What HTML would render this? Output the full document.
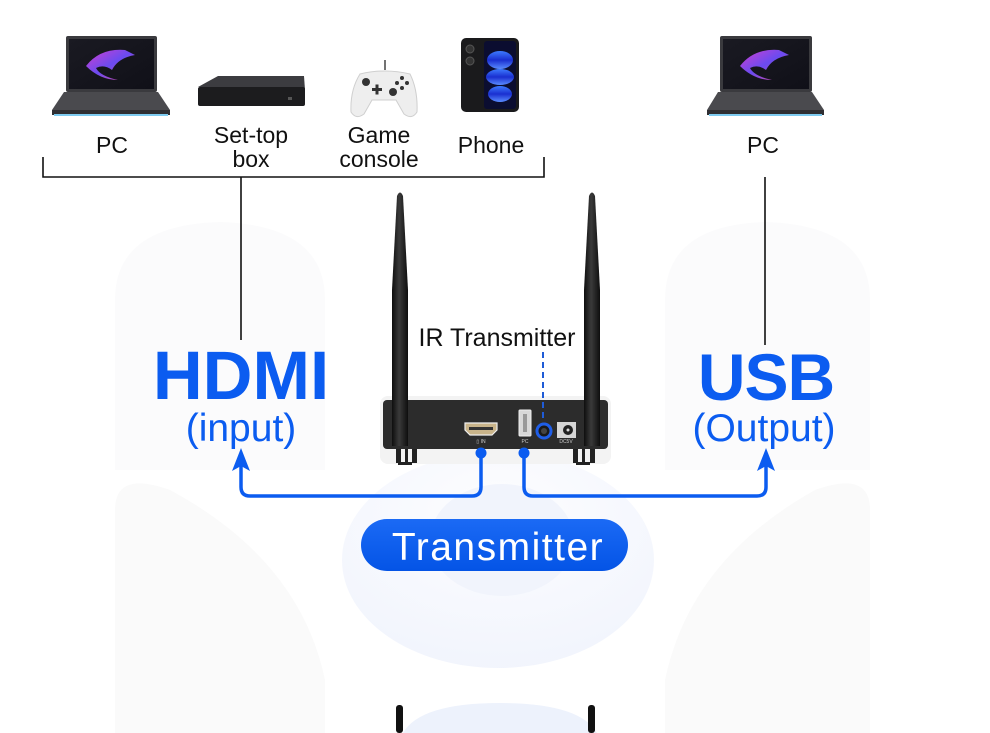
<!DOCTYPE html>
<html><head><meta charset="utf-8"><style>
html,body{margin:0;padding:0;background:#fff;}
body{width:990px;height:733px;overflow:hidden;position:relative;font-family:"Liberation Sans","DejaVu Sans",sans-serif;}
svg{position:absolute;left:0;top:0;overflow:hidden;}
</style></head><body>
<svg width="990" height="733" viewBox="0 0 990 733" xmlns="http://www.w3.org/2000/svg">
<defs>
<linearGradient id="pill" x1="0" y1="0" x2="0" y2="1"><stop offset="0" stop-color="#1b6af5"/><stop offset="1" stop-color="#0454e6"/></linearGradient>
<radialGradient id="bowl" cx="0.5" cy="0.3" r="0.7"><stop offset="0" stop-color="#fdfdff"/><stop offset="1" stop-color="#eef2fc"/></radialGradient>
<linearGradient id="scr" x1="0" y1="0" x2="1" y2="1"><stop offset="0" stop-color="#1a1a22"/><stop offset="1" stop-color="#101018"/></linearGradient>
<linearGradient id="rog" x1="0" y1="0" x2="1" y2="1"><stop offset="0" stop-color="#d23fd0"/><stop offset="0.5" stop-color="#6a4bf0"/><stop offset="1" stop-color="#e04aa0"/></linearGradient>
<linearGradient id="ant" x1="0" y1="0" x2="1" y2="0"><stop offset="0" stop-color="#0e0e0e"/><stop offset="0.45" stop-color="#3a3a3a"/><stop offset="1" stop-color="#0e0e0e"/></linearGradient>
<linearGradient id="ph" x1="0" y1="0" x2="0" y2="1"><stop offset="0" stop-color="#3d7bff"/><stop offset="0.5" stop-color="#1a2fd0"/><stop offset="1" stop-color="#5a8cff"/></linearGradient>
</defs>

<!-- faint background shapes -->
<path d="M115,300 Q115,225 220,222 Q325,225 325,300 L325,470 L115,470 Z" fill="#fbfbfc"/>
<path d="M665,300 Q665,225 765,222 Q870,225 870,300 L870,470 L665,470 Z" fill="#fbfbfc"/>
<path d="M115,510 Q115,470 170,490 Q300,560 325,680 L325,733 L115,733 Z" fill="#fafafa"/>
<path d="M870,510 Q870,470 815,490 Q690,560 665,680 L665,733 L870,733 Z" fill="#fafafa"/>
<ellipse cx="498" cy="560" rx="156" ry="108" fill="url(#bowl)" opacity="0.8"/>
<ellipse cx="502" cy="540" rx="72" ry="56" fill="#f1f4fc"/>
<path d="M403,733 Q420,703 500,703 Q580,703 597,733 Z" fill="#edf2fc"/>

<!-- left laptop -->
<g>
<rect x="66" y="36" width="91" height="56" rx="2" fill="#3a3a3e"/>
<rect x="69" y="39" width="85" height="50" fill="url(#scr)"/>
<path d="M86,66 Q100,48 125,50 L135,55 Q118,58 112,70 Q104,64 96,68 Q100,76 118,80 Q100,80 86,66Z" fill="url(#rog)"/>
<path d="M52,110 L64,92 L158,92 L170,110 Z" fill="#4a4a4e"/>
<rect x="52" y="110" width="118" height="5" fill="#2f2f33"/>
<rect x="54" y="114" width="114" height="2" fill="#7ecbf0"/>
</g>
<!-- set-top box -->
<g>
<path d="M198,87 L218,76 L304,76 L305,90 Z" fill="#3c3c40"/>
<rect x="198" y="87" width="107" height="19" rx="2" fill="#1c1c1e"/>
<rect x="288" y="97" width="4" height="3" fill="#555"/>
</g>
<!-- game controller -->
<g>
<path d="M360,74 Q385,68 410,74 Q418,90 417,112 Q412,120 404,114 L396,100 L372,100 L364,114 Q356,120 351,112 Q350,90 360,74Z" fill="#eeeeee" stroke="#cfcfcf"/>
<line x1="385" y1="60" x2="385" y2="70" stroke="#444" stroke-width="1.5"/>
<circle cx="366" cy="82" r="4" fill="#333"/>
<circle cx="393" cy="92" r="4" fill="#333"/>
<rect x="372" y="88" width="10" height="3" fill="#333"/><rect x="375.5" y="84.5" width="3" height="10" fill="#333"/>
<circle cx="402" cy="78" r="2" fill="#333"/><circle cx="407" cy="83" r="2" fill="#333"/><circle cx="397" cy="83" r="2" fill="#333"/><circle cx="402" cy="88" r="2" fill="#333"/>
</g>
<!-- phone -->
<g>
<rect x="461" y="38" width="58" height="74" rx="5" fill="#1a1a1c"/>
<rect x="484" y="41" width="32" height="68" rx="3" fill="#0b0d30"/>
<ellipse cx="500" cy="60" rx="13" ry="9" fill="url(#ph)"/>
<ellipse cx="500" cy="77" rx="14" ry="8" fill="url(#ph)"/>
<ellipse cx="500" cy="94" rx="12" ry="8" fill="url(#ph)"/>
<circle cx="470" cy="49" r="4" fill="#333" stroke="#555"/>
<circle cx="470" cy="61" r="4" fill="#333" stroke="#555"/>
</g>
<!-- right laptop -->
<g>
<rect x="720" y="36" width="92" height="56" rx="2" fill="#3a3a3e"/>
<rect x="723" y="39" width="86" height="50" fill="url(#scr)"/>
<path d="M740,66 Q754,48 779,50 L789,55 Q772,58 766,70 Q758,64 750,68 Q754,76 772,80 Q754,80 740,66Z" fill="url(#rog)"/>
<path d="M707,110 L718,92 L812,92 L824,110 Z" fill="#4a4a4e"/>
<rect x="707" y="110" width="117" height="5" fill="#2f2f33"/>
<rect x="709" y="114" width="113" height="2" fill="#7ecbf0"/>
</g>

<!-- labels top -->
<g font-family="Liberation Sans, DejaVu Sans, sans-serif" font-size="23" fill="#111" text-anchor="middle">
<text x="112" y="153">PC</text>
<text x="251" y="143">Set-top</text>
<text x="251" y="167">box</text>
<text x="379" y="143">Game</text>
<text x="379" y="167">console</text>
<text x="491" y="153">Phone</text>
<text x="763" y="153">PC</text>
</g>

<!-- bracket lines -->
<g stroke="#111" stroke-width="1.6" fill="none">
<path d="M43,157 L43,177 L544,177 L544,157"/>
<line x1="241" y1="177" x2="241" y2="340"/>
<line x1="765" y1="177" x2="765" y2="345"/>
</g>

<!-- device -->
<rect x="380" y="396" width="231" height="68" rx="8" fill="#f3f3f3"/>
<rect x="383" y="400" width="225" height="49" rx="4" fill="#2c2c2c"/>
<!-- feet -->
<g fill="#222">
<rect x="396" y="449" width="5" height="14"/><rect x="405" y="449" width="3" height="14"/><rect x="412" y="449" width="5" height="14"/>
<rect x="398" y="462" width="14" height="3"/>
<rect x="573" y="449" width="5" height="14"/><rect x="582" y="449" width="3" height="14"/><rect x="590" y="449" width="5" height="14"/>
<rect x="576" y="462" width="14" height="3"/>
</g>
<!-- antennas -->
<path d="M397,196 Q400,189 403,196 L408,290 L408,446 L392,446 L392,290 Z" fill="url(#ant)"/>
<path d="M589,196 Q592,189 595,196 L600,290 L600,446 L584,446 L584,290 Z" fill="url(#ant)"/>
<rect x="396" y="705" width="7" height="28" rx="3" fill="#111"/>
<rect x="588" y="705" width="7" height="28" rx="3" fill="#111"/>
<!-- ports -->
<path d="M465,423 L497,423 L497,430 L492,435 L470,435 L465,430 Z" fill="#c9b48a" stroke="#eee" stroke-width="1.2"/>
<rect x="469" y="427" width="24" height="3" fill="#333"/>
<text x="481" y="443" font-size="5" fill="#ccc" text-anchor="middle" font-family="Liberation Sans, sans-serif">▯ IN</text>
<rect x="519" y="410" width="12" height="26" rx="1" fill="#d8d8d8" stroke="#eee"/>
<rect x="523" y="414" width="4" height="18" fill="#999"/>
<text x="525" y="443" font-size="5" fill="#ccc" text-anchor="middle" font-family="Liberation Sans, sans-serif">PC</text>
<circle cx="544" cy="431" r="7" fill="#1a1a1a" stroke="#1f5ee8" stroke-width="3"/>
<circle cx="544" cy="431" r="3" fill="#444"/>
<rect x="557" y="422" width="19" height="16" fill="#d6d6d6"/>
<circle cx="568" cy="430" r="5" fill="#222"/><circle cx="568" cy="430" r="1.5" fill="#ddd"/>
<text x="566" y="443" font-size="5" fill="#ccc" text-anchor="middle" font-family="Liberation Sans, sans-serif">DC5V</text>

<!-- IR dashed line -->
<line x1="543" y1="352" x2="543" y2="421" stroke="#1f5bd6" stroke-width="2" stroke-dasharray="6,4"/>
<text x="497" y="346" font-size="25" fill="#111" text-anchor="middle" font-family="Liberation Sans, DejaVu Sans, sans-serif">IR Transmitter</text>

<!-- blue connectors -->
<g stroke="#0b5cf0" stroke-width="3.5" fill="none" stroke-linecap="round">
<path d="M481,453 L481,487 Q481,496 472,496 L250,496 Q241,496 241,487 L241,464"/>
<path d="M524,453 L524,487 Q524,496 533,496 L757,496 Q766,496 766,487 L766,464"/>
</g>
<g fill="#0b5cf0">
<circle cx="481" cy="453" r="5.5"/>
<circle cx="524" cy="453" r="5.5"/>
<path d="M241,448 L250,471 L241,466 L232,471 Z"/>
<path d="M766,448 L775,471 L766,466 L757,471 Z"/>
</g>

<!-- HDMI / USB titles -->
<g font-family="Liberation Sans, DejaVu Sans, sans-serif" fill="#0b5cf0" text-anchor="middle">
<text x="241" y="399" font-size="69" font-weight="bold">HDMI</text>
<text x="241" y="441" font-size="39">(input)</text>
<text x="766" y="400" font-size="66" font-weight="bold" letter-spacing="-1">USB</text>
<text x="764" y="441" font-size="39">(Output)</text>
</g>

<!-- Transmitter pill -->
<rect x="361" y="519" width="267" height="52" rx="26" fill="url(#pill)"/>
<text x="498" y="560" font-size="39" fill="#fff" text-anchor="middle" letter-spacing="1.5" font-family="Liberation Sans, DejaVu Sans, sans-serif">Transmitter</text>
</svg>
</body></html>
